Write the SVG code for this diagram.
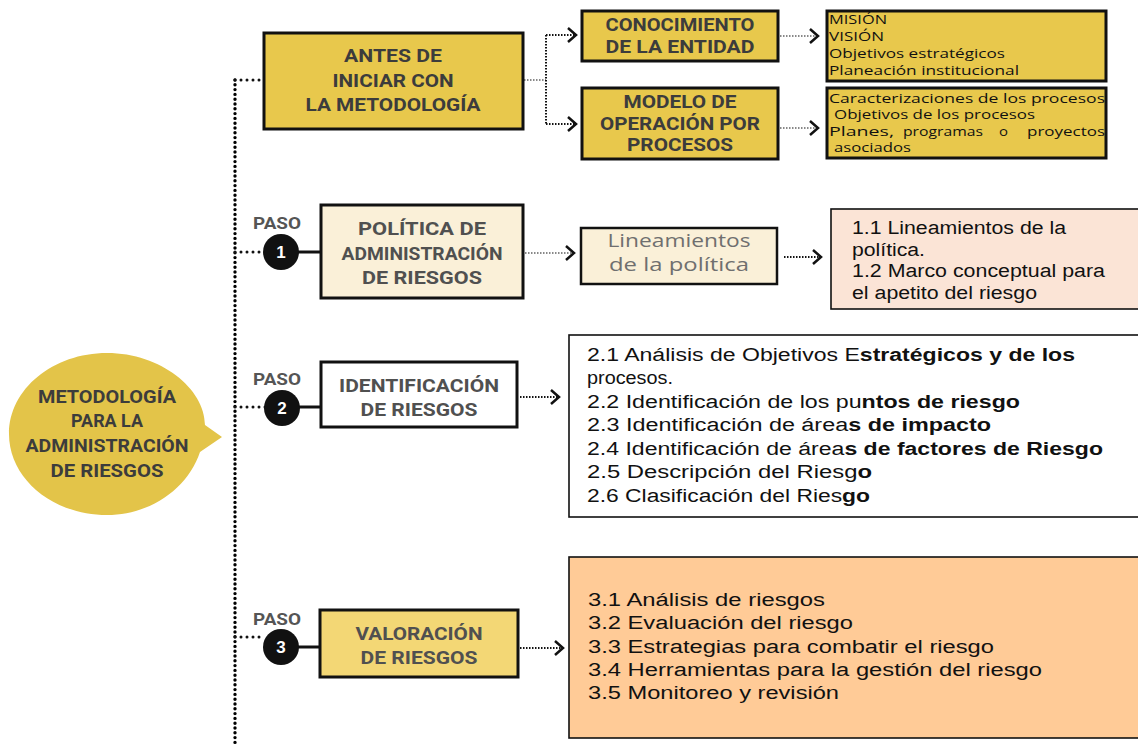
<svg xmlns="http://www.w3.org/2000/svg" width="1138" height="745" viewBox="0 0 1138 745">
<style>
.cap{font-family:Roboto,"Liberation Sans",sans-serif;font-weight:700;text-anchor:middle;fill:#3c3c3c;font-size:18px}
.capg{font-family:Roboto,"Liberation Sans",sans-serif;font-weight:700;text-anchor:middle;fill:#505050;font-size:18px}
.small{font-family:"Open Sans","Liberation Sans",sans-serif;fill:#111;font-size:13px}
.body{font-family:"Liberation Sans",Arial,sans-serif;fill:#111;font-size:18px}
.b{font-weight:700}
.box{stroke:#111;stroke-width:3}
.tbox{stroke:#111;stroke-width:1.6}
.main{fill:none;stroke:#000;stroke-width:3.4;stroke-dasharray:0 4.8;stroke-linecap:round}
.hd{fill:none;stroke:#111;stroke-width:3;stroke-dasharray:0 6;stroke-linecap:round}
.gd{fill:none;stroke:#888;stroke-width:2;stroke-dasharray:1.5 1.5}
.bd{fill:none;stroke:#111;stroke-width:2;stroke-dasharray:1.5 1.5}
.sol{fill:none;stroke:#111;stroke-width:3}
.num{font-family:"Liberation Sans",sans-serif;font-weight:700;font-size:17px;fill:#fff;text-anchor:middle}
.paso{font-family:Roboto,"Liberation Sans",sans-serif;font-weight:700;font-size:17px;fill:#555}
</style>
<defs>
<marker id="ar" markerUnits="userSpaceOnUse" markerWidth="14" markerHeight="16" refX="9" refY="7" orient="auto" overflow="visible">
<path d="M1,0 L9,7 L1,14" fill="none" stroke="#111" stroke-width="2.5"/>
</marker>
</defs>
<rect width="1138" height="745" fill="#fff"/>

<g id="connectors">
<path class="main" d="M235,80 V745"/>
<path class="hd" d="M235,80 H262"/>
<path class="gd" d="M524,80 H546"/>
<path class="bd" d="M546,35 V124" stroke-width="3"/>
<path class="bd" d="M546,35 H576" stroke-width="3" marker-end="url(#ar)"/>
<path class="bd" d="M546,124 H576" stroke-width="3" marker-end="url(#ar)"/>
<path class="gd" d="M780,36 H818" marker-end="url(#ar)"/>
<path class="gd" d="M780,128 H818" marker-end="url(#ar)"/>
<path class="hd" d="M235,252 H264"/>
<path class="sol" d="M298,252 H321"/>
<path class="gd" d="M525,253 H574" marker-end="url(#ar)"/>
<path class="bd" d="M784,257 H821" marker-end="url(#ar)"/>
<path class="hd" d="M235,407 H266"/>
<path class="sol" d="M299,407 H321"/>
<path class="bd" d="M520,397 H559" marker-end="url(#ar)"/>
<path class="hd" d="M235,637 H262"/>
<path class="sol" d="M298,647 H320"/>
<path class="bd" d="M520,648 H563" marker-end="url(#ar)"/>
</g>

<g id="bubble">
<path d="M107,353 C161,353 205,389 205,425 L222,437 L200,452 C188,488 151,515 107,515 C53,515 9,479 9,434 C9,389 53,353 107,353 Z" fill="#E3C449"/>
<text class="cap" x="107" y="403" textLength="138" lengthAdjust="spacingAndGlyphs">METODOLOGÍA</text>
<text class="cap" x="107" y="427" textLength="72" lengthAdjust="spacingAndGlyphs">PARA LA</text>
<text class="cap" x="107" y="452" textLength="163" lengthAdjust="spacingAndGlyphs">ADMINISTRACIÓN</text>
<text class="cap" x="107" y="477" textLength="113" lengthAdjust="spacingAndGlyphs">DE RIESGOS</text>
</g>

<g id="antes">
<rect class="box" x="264" y="33" width="259" height="96" fill="#E8C84C"/>
<text class="cap" x="393" y="62" textLength="98" lengthAdjust="spacingAndGlyphs">ANTES DE</text>
<text class="cap" x="393" y="87" textLength="121" lengthAdjust="spacingAndGlyphs">INICIAR CON</text>
<text class="cap" x="393" y="111" textLength="175" lengthAdjust="spacingAndGlyphs">LA METODOLOGÍA</text>
</g>

<g id="conocimiento">
<rect class="box" x="582" y="11" width="196" height="50" fill="#E8C84C"/>
<text class="cap" x="680" y="31" textLength="149" lengthAdjust="spacingAndGlyphs">CONOCIMIENTO</text>
<text class="cap" x="680" y="53" textLength="149" lengthAdjust="spacingAndGlyphs">DE LA ENTIDAD</text>
</g>

<g id="modelo">
<rect class="box" x="582" y="88" width="196" height="71" fill="#E8C84C"/>
<text class="cap" x="680" y="108" textLength="113" lengthAdjust="spacingAndGlyphs">MODELO DE</text>
<text class="cap" x="680" y="130" textLength="160" lengthAdjust="spacingAndGlyphs">OPERACIÓN POR</text>
<text class="cap" x="680" y="151" textLength="106" lengthAdjust="spacingAndGlyphs">PROCESOS</text>
</g>

<g id="mision">
<rect class="box" x="827" y="11" width="279" height="70" fill="#E8C84C" stroke-width="2.5"/>
<text class="small" x="829" y="24" textLength="58" lengthAdjust="spacingAndGlyphs">MISIÓN</text>
<text class="small" x="829" y="41" textLength="55" lengthAdjust="spacingAndGlyphs">VISIÓN</text>
<text class="small" x="829" y="58" textLength="176" lengthAdjust="spacingAndGlyphs">Objetivos estratégicos</text>
<text class="small" x="829" y="75" textLength="190" lengthAdjust="spacingAndGlyphs">Planeación institucional</text>
</g>

<g id="caracterizaciones">
<rect class="box" x="827" y="88" width="279" height="70" fill="#E8C84C" stroke-width="2.5"/>
<text class="small" x="829" y="103" textLength="276" lengthAdjust="spacingAndGlyphs">Caracterizaciones de los procesos</text>
<text class="small" x="834" y="119" textLength="201" lengthAdjust="spacingAndGlyphs">Objetivos de los procesos</text>
<text class="small" x="829" y="136" textLength="65" lengthAdjust="spacingAndGlyphs">Planes,</text>
<text class="small" x="903" y="136" textLength="80" lengthAdjust="spacingAndGlyphs">programas</text>
<text class="small" x="999" y="136" textLength="9" lengthAdjust="spacingAndGlyphs">o</text>
<text class="small" x="1027" y="136" textLength="78" lengthAdjust="spacingAndGlyphs">proyectos</text>
<text class="small" x="834" y="152" textLength="77" lengthAdjust="spacingAndGlyphs">asociados</text>
</g>

<g id="paso1">
<text class="paso" x="253" y="229" textLength="48" lengthAdjust="spacingAndGlyphs">PASO</text>
<circle cx="281" cy="252" r="18" fill="#111"/>
<text class="num" x="281" y="258">1</text>
</g>

<g id="politica">
<rect class="box" x="321" y="205" width="202" height="93" fill="#FAF0D8"/>
<text class="capg" x="422" y="235" textLength="128" lengthAdjust="spacingAndGlyphs">POLÍTICA DE</text>
<text class="capg" x="422" y="260" textLength="161" lengthAdjust="spacingAndGlyphs">ADMINISTRACIÓN</text>
<text class="capg" x="422" y="284" textLength="120" lengthAdjust="spacingAndGlyphs">DE RIESGOS</text>
</g>

<g id="lineamientos">
<rect x="581" y="228" width="196" height="56" fill="#FAF0D8" stroke="#111" stroke-width="2.5"/>
<text x="679" y="247" font-family="'Open Sans','Liberation Sans',sans-serif" font-size="18" fill="#6f6f6f" text-anchor="middle" textLength="143" lengthAdjust="spacingAndGlyphs">Lineamientos</text>
<text x="679" y="271" font-family="'Open Sans','Liberation Sans',sans-serif" font-size="18" fill="#6f6f6f" text-anchor="middle" textLength="140" lengthAdjust="spacingAndGlyphs">de la política</text>
</g>

<g id="paso1detalle">
<rect class="tbox" x="831" y="209" width="310" height="100" fill="#FBE4D6"/>
<text class="body" x="852" y="234" textLength="214" lengthAdjust="spacingAndGlyphs">1.1 Lineamientos de la</text>
<text class="body" x="852" y="256" textLength="73" lengthAdjust="spacingAndGlyphs">política.</text>
<text class="body" x="852" y="277" textLength="253" lengthAdjust="spacingAndGlyphs">1.2 Marco conceptual para</text>
<text class="body" x="852" y="299" textLength="185" lengthAdjust="spacingAndGlyphs">el apetito del riesgo</text>
</g>

<g id="paso2">
<text class="paso" x="253" y="385" textLength="48" lengthAdjust="spacingAndGlyphs">PASO</text>
<circle cx="282" cy="408" r="18" fill="#111"/>
<text class="num" x="282" y="414">2</text>
</g>

<g id="identificacion">
<rect class="box" x="321" y="362" width="196" height="65" fill="#fff"/>
<text class="capg" x="419" y="392" textLength="160" lengthAdjust="spacingAndGlyphs">IDENTIFICACIÓN</text>
<text class="capg" x="419" y="416" textLength="117" lengthAdjust="spacingAndGlyphs">DE RIESGOS</text>
</g>

<g id="paso2detalle">
<rect class="tbox" x="569" y="335" width="572" height="182" fill="#fff"/>
<text class="body" x="587" y="361" textLength="488" lengthAdjust="spacingAndGlyphs">2.1 Análisis de Objetivos E<tspan class="b">stratégicos y de los</tspan></text>
<text class="body" x="587" y="384" textLength="86" lengthAdjust="spacingAndGlyphs">procesos.</text>
<text class="body" x="587" y="408" textLength="433" lengthAdjust="spacingAndGlyphs">2.2 Identificación de los pu<tspan class="b">ntos de riesgo</tspan></text>
<text class="body" x="587" y="431" textLength="404" lengthAdjust="spacingAndGlyphs">2.3 Identificación de área<tspan class="b">s de impacto</tspan></text>
<text class="body" x="587" y="455" textLength="516" lengthAdjust="spacingAndGlyphs">2.4 Identificación de área<tspan class="b">s de factores de Riesgo</tspan></text>
<text class="body" x="587" y="478" textLength="285" lengthAdjust="spacingAndGlyphs">2.5 Descripción del Riesg<tspan class="b">o</tspan></text>
<text class="body" x="587" y="502" textLength="283" lengthAdjust="spacingAndGlyphs">2.6 Clasificación del Ries<tspan class="b">go</tspan></text>
</g>

<g id="paso3">
<text class="paso" x="253" y="625" textLength="48" lengthAdjust="spacingAndGlyphs">PASO</text>
<circle cx="281" cy="647" r="18" fill="#111"/>
<text class="num" x="281" y="653">3</text>
</g>

<g id="valoracion">
<rect class="box" x="320" y="610" width="198" height="67" fill="#F3D775"/>
<text class="capg" x="419" y="640" textLength="127" lengthAdjust="spacingAndGlyphs">VALORACIÓN</text>
<text class="capg" x="419" y="664" textLength="117" lengthAdjust="spacingAndGlyphs">DE RIESGOS</text>
</g>

<g id="paso3detalle">
<rect class="tbox" x="569" y="557" width="572" height="181" fill="#FFCB97"/>
<text class="body" x="588" y="606" textLength="237" lengthAdjust="spacingAndGlyphs">3.1 Análisis de riesgos</text>
<text class="body" x="588" y="629" textLength="265" lengthAdjust="spacingAndGlyphs">3.2 Evaluación del riesgo</text>
<text class="body" x="588" y="653" textLength="406" lengthAdjust="spacingAndGlyphs">3.3 Estrategias para combatir el riesgo</text>
<text class="body" x="588" y="676" textLength="454" lengthAdjust="spacingAndGlyphs">3.4 Herramientas para la gestión del riesgo</text>
<text class="body" x="588" y="699" textLength="251" lengthAdjust="spacingAndGlyphs">3.5 Monitoreo y revisión</text>
</g>
</svg>
